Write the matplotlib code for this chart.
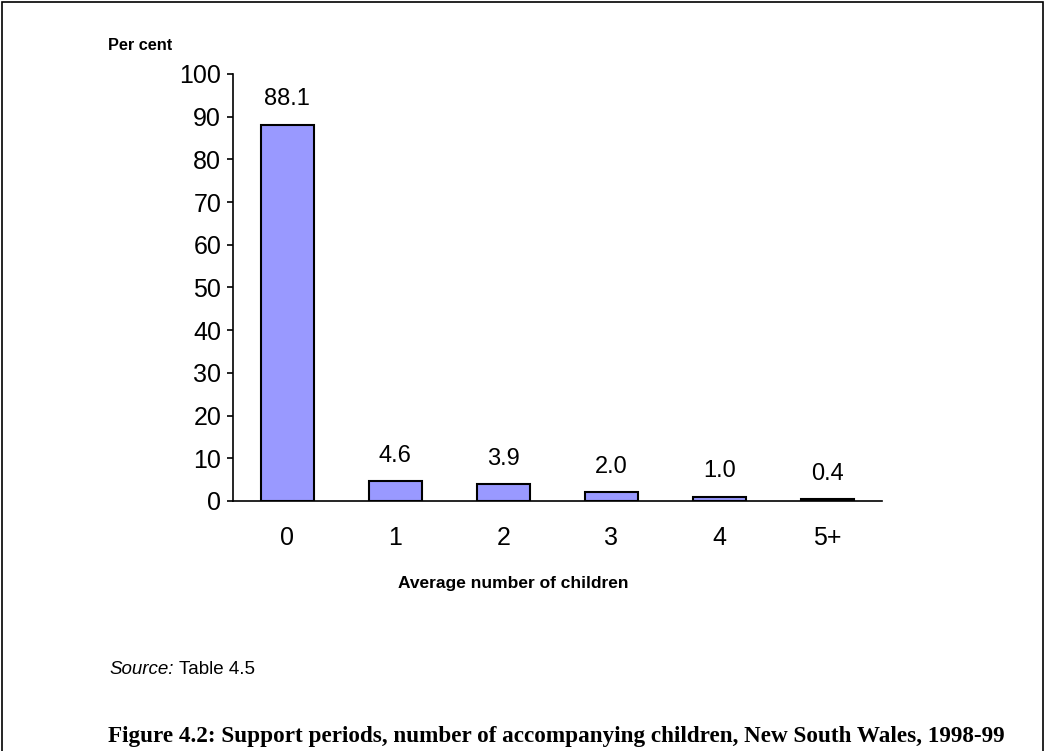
import matplotlib.pyplot as plt
from matplotlib.patches import Rectangle

# data
categories = ['0', '1', '2', '3', '4', '5+']
per_cent = [88.1, 4.6, 3.9, 2.0, 1.0, 0.4]
y_ticks = [0, 10, 20, 30, 40, 50, 60, 70, 80, 90, 100]

plt.rcParams['font.family'] = ['Liberation Sans', 'DejaVu Sans']

fig = plt.figure(figsize=(10.46, 7.51), dpi=100)
ax = fig.add_axes([0.2228, 0.3329, 0.62, 0.5686])

x = list(range(len(categories)))
ax.bar(x, per_cent, width=0.49, color='#9999FF', edgecolor='black', linewidth=1.5)

# value labels above each bar
for xi, v in zip(x, per_cent):
    ax.text(xi, v + 6, f'{v:.1f}', ha='center', va='center', fontsize=17)

ax.set_xlim(-0.5, 5.5)
ax.set_ylim(0, 100)
ax.set_yticks(y_ticks)
ax.set_xticks(x)
ax.set_xticklabels(categories)
ax.tick_params(axis='y', direction='out', length=4.5, width=1.2, labelsize=18, pad=4)
ax.tick_params(axis='x', length=0, labelsize=18, pad=18)
for s in ['top', 'right']:
    ax.spines[s].set_visible(False)
for s in ['left', 'bottom']:
    ax.spines[s].set_linewidth(1.2)

# axis titles (x title sits left of the axis centre in the original)
fig.text(0.4905, 0.2224, 'Average number of children', fontsize=12.5, fontweight='bold',
         ha='center', va='center')
fig.text(0.1033, 0.94, 'Per cent', fontsize=11.7, fontweight='bold', ha='left', va='center')

# source line
fig.text(0.105, 0.109, 'Source:', fontsize=13.5, style='italic', ha='left', va='center')
fig.text(0.171, 0.109, 'Table 4.5', fontsize=13.5, ha='left', va='center')

# caption
fig.text(0.103, 0.019, 'Figure 4.2: Support periods, number of accompanying children, New South Wales, 1998-99',
         fontsize=16.7, fontweight='bold', family=['Liberation Serif', 'DejaVu Serif'],
         ha='left', va='center')

# frame around the figure
fig.patches.append(Rectangle((0.002, -0.05), 0.995, 1.047, transform=fig.transFigure,
                             fill=False, edgecolor='black', linewidth=1.2))

plt.savefig('out.png', dpi=100)
